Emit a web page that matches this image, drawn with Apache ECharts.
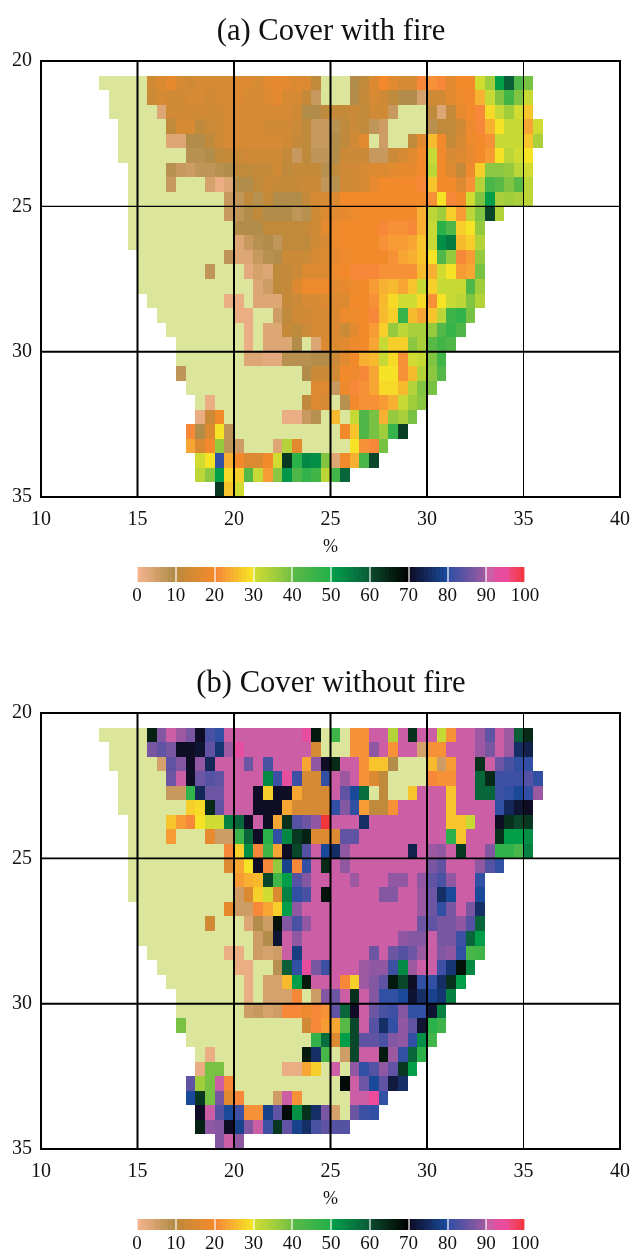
<!DOCTYPE html>
<html><head><meta charset="utf-8">
<style>html,body{margin:0;padding:0;background:#fff}#c{width:633px;height:1254px}</style>
<script src="https://cdn.jsdelivr.net/npm/echarts@6/dist/echarts.min.js"></script>
</head><body><div id="c"></div>
<script>
const o = -1; // land outside the modelled range (pale green)
const titles = ['(a) Cover with fire', '(b) Cover without fire'];
const unit = '%';
const lonRange = [10, 40];
const latRange = [20, 35];
const cellSize = 0.5;
const barTicks = 10;
// each row: first column index (0 = 10°, step 0.5°), then cell values; row 1 = 20.5°
const coverWithFire = [
[6,o,o,o,o,o,13,15,17,14,13,14,14,14,14,15,15,14,16,17,16,15,15,10,o,o,o,9,10,15,19,16,14,14,20,21,20,16,19,19,30,35,50,59,42,39],
[7,o,o,o,o,12,14,13,13,14,14,13,14,14,15,14,14,15,17,14,14,11,6,o,o,o,9,11,14,13,10,9,9,4,13,13,16,18,19,24,31,38,44,38,31],
[7,o,o,o,o,o,3,13,13,13,13,13,13,14,14,14,14,14,14,14,13,9,9,10,11,11,12,10,13,13,6,o,o,o,10,3,11,17,19,20,28,31,35,30,26],
[8,o,o,o,o,o,10,14,14,10,12,13,14,14,14,14,13,13,13,12,10,6,6,8,10,12,10,7,5,o,o,o,o,8,10,10,13,18,20,24,29,31,31,23,30],
[8,o,o,o,o,o,3,3,9,9,10,13,14,14,14,14,14,14,13,11,10,6,6,9,10,13,16,o,5,o,o,10,16,25,19,11,14,18,19,21,31,31,31,26,34],
[8,o,o,o,o,o,o,o,8,8,9,10,11,12,13,13,13,13,11,6,10,7,7,9,12,12,12,6,6,12,14,16,19,31,19,14,15,17,19,22,29,32,30,29],
[9,o,o,o,o,8,6,5,7,7,8,9,10,10,11,11,13,10,11,11,11,8,10,13,13,14,15,15,16,17,17,19,32,19,15,11,18,27,37,37,36,32,30],
[9,o,o,o,o,6,o,o,o,4,1,3,9,9,10,12,11,11,11,12,12,7,8,13,13,14,17,19,19,19,19,20,26,19,19,15,21,33,43,40,38,40,32],
[9,o,o,o,o,o,o,o,o,o,o,6,7,10,8,11,9,9,9,11,14,14,15,19,19,19,19,19,19,19,19,19,21,29,20,19,30,38,50,34,35,34,32],
[9,o,o,o,o,o,o,o,o,o,o,6,7,9,10,9,9,9,7,8,13,15,16,17,18,19,19,19,19,19,19,24,32,35,27,22,32,38,60,33],
[9,o,o,o,o,o,o,o,o,o,o,o,9,9,9,10,10,10,10,11,13,16,18,19,19,19,19,20,21,21,20,24,31,48,42,27,29,36],
[9,o,o,o,o,o,o,o,o,o,o,o,3,6,8,9,7,10,10,10,13,14,18,19,19,19,19,21,22,22,23,26,31,52,55,25,27,33],
[10,o,o,o,o,o,o,o,o,o,7,3,3,6,8,9,12,12,12,14,15,17,18,19,19,19,19,21,23,24,26,29,42,36,20,22,36],
[10,o,o,o,o,o,o,o,7,o,o,o,2,4,3,10,11,12,15,15,15,18,19,20,20,20,21,21,21,21,25,24,30,29,22,23,39],
[10,o,o,o,o,o,o,o,o,o,o,o,o,3,5,10,11,15,18,18,18,16,17,18,19,22,24,25,23,26,31,27,31,31,31,42,35],
[11,o,o,o,o,o,o,o,o,1,1,o,3,3,3,11,12,14,14,15,15,15,19,19,21,25,28,30,30,28,21,29,31,32,38,33],
[12,o,o,o,o,o,o,o,o,1,1,o,o,5,10,13,13,14,14,15,18,18,19,20,25,27,46,25,23,26,32,45,47,39],
[13,o,o,o,o,o,o,o,o,1,o,3,3,11,10,12,14,14,15,12,16,19,22,27,36,32,34,34,36,41,46,42],
[14,o,o,o,o,o,o,o,1,o,3,3,3,9,o,3,15,15,16,18,19,23,31,27,27,37,34,40,44,42],
[14,o,o,o,o,o,o,o,3,3,2,2,8,8,8,9,9,12,16,19,24,25,31,28,21,30,31,38,44],
[14,7,o,o,o,o,o,o,o,o,o,o,o,o,9,12,12,13,19,18,20,23,29,29,21,25,33,37,41],
[15,o,o,o,o,o,o,o,o,o,o,o,o,o,15,15,6,18,20,21,23,28,28,25,33,38,39],
[16,o,1,o,o,o,o,o,o,o,o,o,10,15,14,o,8,19,21,21,22,24,31,35,37],
[16,1,12,19,o,o,o,o,o,o,1,1,6,8,o,25,o,31,42,39,24,36,34,39],
[15,20,9,15,29,7,o,o,o,o,o,o,o,o,o,o,o,19,26,42,39,35,46,61],
[15,23,15,19,36,7,5,o,o,o,3,33,16,o,o,o,o,o,29,21,20,39],
[16,30,29,80,24,19,15,15,19,30,62,48,53,52,38,3,19,24,43,60],
[16,32,37,50,28,27,41,31,22,37,51,42,47,44,32,44,58],
[18,62,26,30]
];
const coverWithoutFire = [
[6,o,o,o,o,o,65,87,91,89,86,70,82,80,91,91,91,91,91,91,91,91,93,66,o,45,o,21,21,91,91,33,91,63,91,91,31,21,91,91,89,84,90,89,59,64],
[7,o,o,o,o,86,84,86,70,70,71,84,76,89,93,91,91,91,91,91,91,91,14,o,o,o,21,21,88,91,21,91,91,4,21,21,91,91,91,89,86,90,89,75,73],
[7,o,o,o,o,o,4,84,87,70,88,74,91,91,91,85,91,82,91,91,91,23,88,70,64,91,91,21,26,26,9,o,o,o,25,5,22,91,91,63,91,85,82,80,80],
[8,o,o,o,o,o,85,90,70,85,83,84,91,91,91,91,53,81,93,81,14,14,80,91,89,91,21,15,10,o,o,o,o,20,21,21,91,91,58,64,81,81,81,83,80],
[8,o,o,o,o,o,6,6,47,74,85,85,91,91,91,70,27,70,70,23,14,14,14,91,84,79,57,o,10,o,o,26,91,91,91,26,91,91,58,58,81,80,79,80,89],
[8,o,o,o,o,o,o,o,27,28,64,84,91,91,91,70,70,70,23,14,14,14,14,80,87,80,22,10,10,21,91,91,91,91,91,26,91,91,91,91,80,74,71,70],
[9,o,o,o,o,26,22,20,29,30,30,54,58,70,90,70,23,63,83,85,88,100,91,91,91,75,91,91,91,91,91,91,91,91,26,26,31,91,91,70,63,60,62],
[9,o,o,o,o,22,o,o,o,17,5,5,45,58,70,48,80,53,62,65,15,15,15,84,84,91,91,91,91,91,91,91,91,91,48,26,91,91,91,63,50,50,52],
[9,o,o,o,o,o,o,o,o,o,o,20,27,52,20,44,23,70,60,83,90,79,75,88,91,91,91,91,91,91,73,91,89,88,91,62,91,91,87,47,47,43,54],
[9,o,o,o,o,o,o,o,o,o,o,15,23,29,70,20,36,78,20,80,91,64,90,88,91,91,91,91,91,91,91,91,86,84,91,91,91,88,83,80],
[9,o,o,o,o,o,o,o,o,o,o,o,22,24,25,60,44,50,83,87,91,91,91,91,89,91,91,91,88,88,91,88,84,82,88,91,91,80],
[9,o,o,o,o,o,o,o,o,o,o,o,5,15,27,30,15,54,80,82,91,67,91,91,91,91,91,87,87,91,91,89,85,75,79,91,91,79],
[10,o,o,o,o,o,o,o,o,o,17,5,5,20,23,27,50,88,90,90,90,91,91,91,91,90,90,90,90,90,89,85,80,86,91,86,75],
[10,o,o,o,o,o,o,o,13,o,o,o,3,9,5,67,87,82,88,91,91,91,91,91,91,91,91,90,90,90,85,84,86,86,88,83,58],
[10,o,o,o,o,o,o,o,o,o,o,o,o,5,9,71,91,88,91,91,91,91,91,91,91,91,91,91,88,87,87,90,86,86,81,58,50],
[11,o,o,o,o,o,o,o,o,1,1,o,5,4,5,90,77,91,91,91,91,91,91,91,85,91,85,83,85,89,90,87,88,80,43,44],
[12,o,o,o,o,o,o,o,o,1,1,o,o,8,59,80,93,86,81,91,91,91,89,88,88,81,53,89,91,90,81,76,67,53],
[13,o,o,o,o,o,o,o,o,1,o,4,4,25,50,66,91,90,91,20,27,89,87,84,66,60,70,80,80,75,63,50],
[14,o,o,o,o,o,o,o,1,o,4,4,4,20,o,5,87,85,90,63,90,87,80,80,79,71,75,78,76,54],
[14,o,o,o,o,o,o,o,5,6,4,5,20,20,18,20,21,84,58,70,90,85,82,81,87,80,80,71,54],
[14,39,o,o,o,o,o,o,o,o,o,o,o,o,13,20,22,23,40,60,90,83,75,80,88,84,71,48,45],
[15,o,o,o,o,o,o,o,o,o,o,o,o,o,47,57,15,50,60,84,84,82,87,88,80,52,44],
[16,o,1,o,o,o,o,o,o,o,o,o,66,75,43,o,5,60,90,91,66,89,80,58,48],
[16,1,39,39,o,o,o,o,o,o,1,1,23,27,o,91,o,88,80,83,88,84,62,50],
[15,84,35,39,91,20,o,o,o,o,o,o,o,o,o,o,o,68,91,85,79,84,72,75],
[15,79,62,39,86,16,20,o,o,o,5,91,21,o,o,o,o,o,91,91,95,80],
[16,70,90,83,79,81,21,21,78,84,68,52,63,75,86,4,o,85,81,80],
[16,65,88,87,70,78,87,90,81,62,84,78,75,82,84,83,83],
[18,87,90,88]
];
const landColor = '#dbe59c';
// colour scale: [from value, from colour, to value, to colour]
const scaleSegments = [
[0,'#f6b48f',10,'#ad8b45'],[10,'#bc8a3c',20,'#f58a2a'],[20,'#f7823a',30,'#f7e825'],
[30,'#d6de32',40,'#72bf44'],[40,'#5cb947',50,'#22b04b'],[50,'#00a14b',60,'#0a5c38'],
[60,'#0a4a2c',70,'#000000'],[70,'#0d0a1e',80,'#1b4ca1'],[80,'#2b4ea3',90,'#a25aa2'],
[90,'#c95fa6',92,'#cd5ea6'],[92,'#e0509f',96,'#ee4a9b'],[96,'#ee4a80',100,'#f2343a']
];
// thick / thin graticule lines
const lonLines = [[15,2],[20,2],[25,2],[30,2],[35,1]];
const latLines = [[[25,1.2],[30,2]],[[25,1.7],[30,2]]];
const frame = {lon:[10,40], lat:[20,35]};

function hex(c){return [1,3,5].map(i=>parseInt(c.substr(i,2),16));}
function pieces(){
  const out=[{value:-1,color:landColor}];
  scaleSegments.forEach(s=>{
    for(let v=s[0];v<s[2];v++){
      const t=(v+0.5-s[0])/(s[2]-s[0]),a=hex(s[1]),b=hex(s[3]);
      const c=a.map((x,i)=>Math.round(x+(b[i]-x)*t));
      out.push({gte:v,lt:v+1,color:'rgb('+c.join(',')+')'});
    }
  });
  out.push({value:100,color:'#f0353b'});
  return out;
}
function cells(rows){
  const d=[];
  rows.forEach((r,ri)=>{
    for(let k=1;k<r.length;k++){
      d.push([lonRange[0]+(r[0]+k-1)*cellSize, latRange[0]+(ri+1)*cellSize, r[k]]);
    }
  });
  return d;
}
function rectRenderer(w,h){
  return function(params,api){
    const a=api.coord([api.value(0),api.value(1)]);
    const b=api.coord([api.value(0)+w,api.value(1)+h]);
    const x0=Math.round(a[0]),x1=Math.round(b[0]),y0=Math.round(Math.min(a[1],b[1])),y1=Math.round(Math.max(a[1],b[1]));
    return {type:'rect',shape:{x:x0,y:y0,width:x1-x0,height:y1-y0},style:{fill:api.visual('color')}};
  };
}
const barValues=[];for(let v=0;v<100;v++)barValues.push([v,0,v]);

const font='"Liberation Serif","Times New Roman",serif';
const txt='#111';
const panelTops=[61,713], barTops=[567,1219];
const grid=[],xAxis=[],yAxis=[],series=[],title=[];
const heatIdx=[];
[coverWithFire,coverWithoutFire].forEach((rows,p)=>{
  const gi=grid.length;
  grid.push({left:41,width:581,top:panelTops[p],height:436,show:false});
  xAxis.push({gridIndex:gi,type:'value',min:lonRange[0],max:lonRange[1],interval:5,name:unit,nameLocation:'middle',nameGap:41,
    nameTextStyle:{fontFamily:font,fontSize:18,color:txt},
    axisLine:{show:false},axisTick:{show:false},splitLine:{show:false},
    axisLabel:{fontFamily:font,fontSize:20,color:txt,margin:13}});
  yAxis.push({gridIndex:gi,type:'value',inverse:true,min:latRange[0],max:latRange[1],interval:5,
    axisLine:{show:false},axisTick:{show:false},splitLine:{show:false},
    axisLabel:{fontFamily:font,fontSize:20,color:txt,margin:9,padding:[2,0,0,0]}});
  heatIdx.push(series.length);
  series.push({type:'custom',xAxisIndex:gi,yAxisIndex:gi,renderItem:rectRenderer(cellSize,cellSize),data:cells(rows),
    encode:{x:0,y:1},silent:true,animation:false,clip:false,z:2});
  const line=(pts,w)=>series.push({type:'line',xAxisIndex:gi,yAxisIndex:gi,data:pts,symbol:'none',silent:true,animation:false,clip:false,z:5,
    lineStyle:{color:'#000',width:w,cap:'square'}});
  lonLines.forEach(l=>line([[l[0],latRange[0]],[l[0],latRange[1]]],l[1]));
  latLines[p].forEach(l=>line([[lonRange[0],l[0]],[lonRange[1],l[0]]],l[1]));
  frame.lon.forEach(v=>line([[v,latRange[0]],[v,latRange[1]]],2));
  frame.lat.forEach(v=>line([[lonRange[0],v],[lonRange[1],v]],2));
  title.push({text:titles[p],left:326,top:panelTops[p]-50,textAlign:'center',
    textStyle:{fontFamily:font,fontSize:30.6,fontWeight:'normal',color:txt}});
  const bi=grid.length;
  grid.push({left:137,width:388,top:barTops[p],height:15,show:false});
  xAxis.push({gridIndex:bi,type:'value',min:0,max:100,interval:barTicks,z:6,
    axisLine:{show:false},splitLine:{show:false},
    axisTick:{show:true,inside:true,length:15,lineStyle:{color:'rgba(255,255,255,0.8)',width:1.5}},
    axisLabel:{fontFamily:font,fontSize:19,color:txt,margin:5}});
  yAxis.push({gridIndex:bi,type:'value',min:0,max:1,show:false});
  heatIdx.push(series.length);
  series.push({type:'custom',xAxisIndex:bi,yAxisIndex:bi,renderItem:rectRenderer(1,1),data:barValues,
    encode:{x:0,y:1},silent:true,animation:false,clip:false,z:2});
});
const chart=echarts.init(document.getElementById('c'),null,{renderer:'canvas'});
chart.setOption({animation:false,backgroundColor:'#fff',title,grid,xAxis,yAxis,series,legend:{show:false},tooltip:{show:false},
  visualMap:{show:false,type:'piecewise',dimension:2,seriesIndex:heatIdx,pieces:pieces(),outOfRange:{color:'#fff'}}});
</script></body></html>
